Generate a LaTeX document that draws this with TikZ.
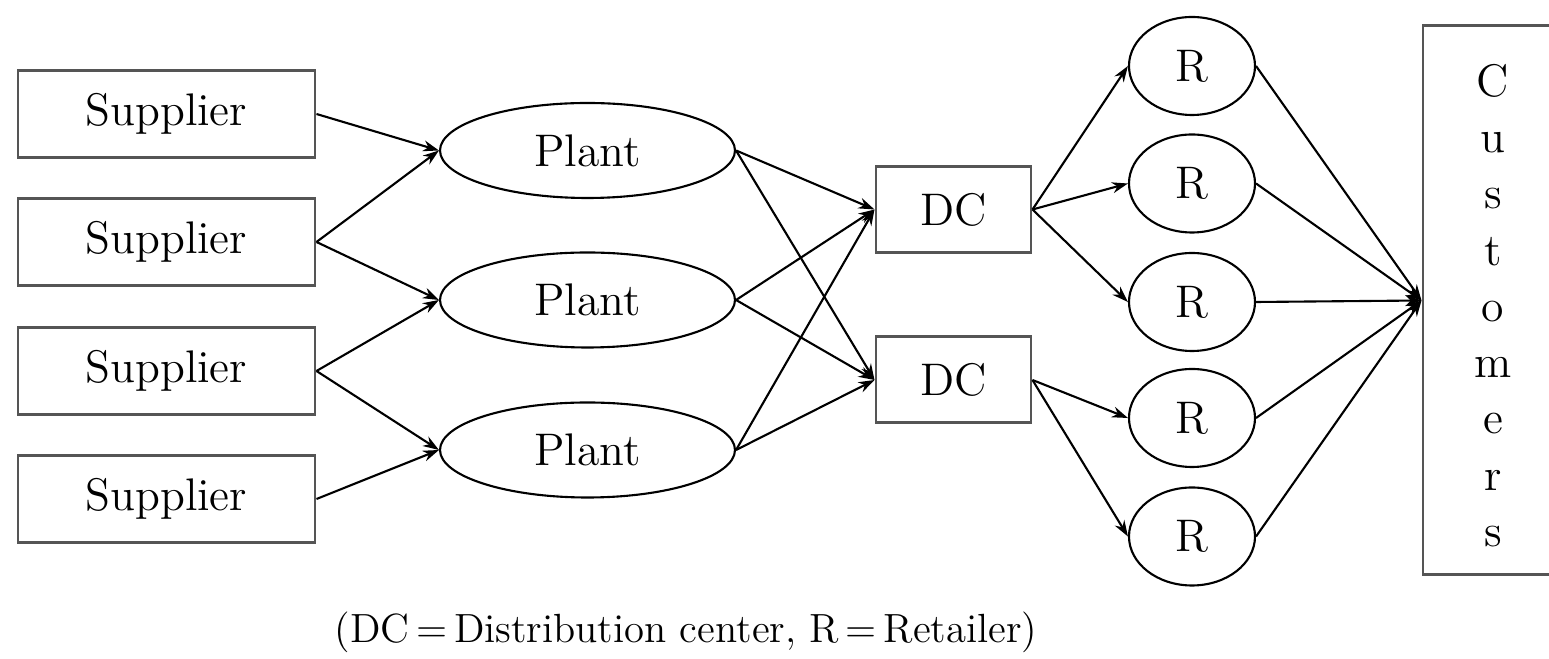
\documentclass[tikz,border=0pt]{standalone}
\usepackage{tikz}
\usetikzlibrary{arrows.meta,positioning,shapes.geometric}
\definecolor{boxgrey}{RGB}{85,85,85}
\tikzset{
  base/.style={font=\fontsize{13}{16}\selectfont, align=center, inner sep=0pt, text=black},
  box/.style={base, rectangle, draw=boxgrey, line width=0.85pt, minimum width=2.97cm, minimum height=0.87cm},
  dcbox/.style={box, minimum width=1.55cm, minimum height=0.86cm},
  plantell/.style={base, ellipse, draw=black, line width=0.6pt, minimum width=2.95cm, minimum height=0.95cm},
  retell/.style={base, ellipse, draw=black, line width=0.6pt, minimum width=1.26cm, minimum height=0.98cm},
  custbox/.style={box, minimum width=1.40cm, minimum height=5.49cm},
  arr/.style={-{Stealth[length=1.6mm,width=1.1mm]}, line width=0.6pt, draw=black},
}
\begin{document}
\begin{tikzpicture}
  \useasboundingbox (0,0) rectangle (15.49,-6.59);
  \node[box] (s1) at (1.665,-1.14) {Supplier};
  \node[box] (s2) at (1.665,-2.42) {Supplier};
  \node[box] (s3) at (1.665,-3.71) {Supplier};
  \node[box] (s4) at (1.665,-4.99) {Supplier};
  \node[plantell] (p1) at (5.875,-1.505) {Plant};
  \node[plantell] (p2) at (5.875,-3.00) {Plant};
  \node[plantell] (p3) at (5.875,-4.50) {Plant};
  \node[dcbox] (dc1) at (9.535,-2.095) {DC};
  \node[dcbox] (dc2) at (9.535,-3.80) {DC};
  \node[retell] (r1) at (11.92,-0.66) {R};
  \node[retell] (r2) at (11.92,-1.835) {R};
  \node[retell] (r3) at (11.92,-3.02) {R};
  \node[retell] (r4) at (11.92,-4.18) {R};
  \node[retell] (r5) at (11.92,-5.365) {R};
  \node[custbox] (cust) at (14.93,-3.005) {};
  \node[base] (custtxt) at ([yshift=-0.05cm]cust.center) {C\\u\\s\\t\\o\\m\\e\\r\\s};
  \node[base, font=\fontsize{11.6}{14}\selectfont] (legend) at (6.86,-6.32) {(DC\,=\,Distribution center, R\,=\,Retailer)};
  \draw[arr] (s1.east) -- (p1.west);
  \foreach \p in {p1,p2}{\draw[arr] (s2.east) -- (\p.west);}
  \foreach \p in {p2,p3}{\draw[arr] (s3.east) -- (\p.west);}
  \draw[arr] (s4.east) -- (p3.west);
  \foreach \p in {p1,p2,p3}{
    \draw[arr] (\p.east) -- (dc1.west);
    \draw[arr] (\p.east) -- (dc2.west);
  }
  \foreach \r in {r1,r2,r3}{\draw[arr] (dc1.east) -- (\r.west);}
  \foreach \r in {r4,r5}{\draw[arr] (dc2.east) -- (\r.west);}
  \foreach \r in {r1,r2,r3,r4,r5}{\draw[arr] (\r.east) -- (cust.west);}
\end{tikzpicture}
\end{document}
